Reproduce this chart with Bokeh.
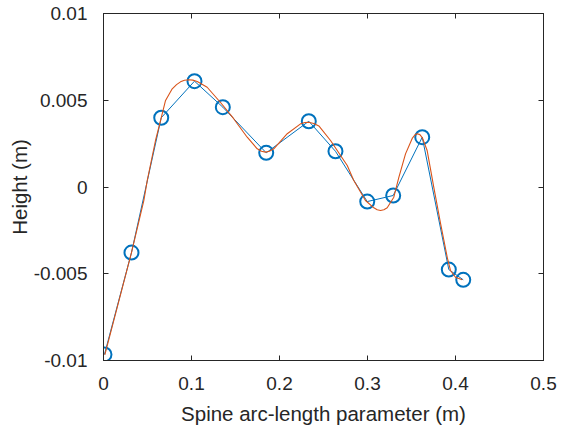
from bokeh.plotting import figure
from bokeh.models import LinearAxis, FixedTicker, Range1d
from bokeh.embed import file_html
from bokeh.resources import INLINE

# Measured spine points (blue circles)
s_pts = [0.0011, 0.0318, 0.0656, 0.1034, 0.1356, 0.1849, 0.2333,
         0.2636, 0.2997, 0.3292, 0.3622, 0.3924, 0.4088]
h_pts = [-0.00965, -0.00378, 0.00399, 0.00610, 0.00460, 0.00197, 0.00379,
         0.00206, -0.00084, -0.00049, 0.00287, -0.00476, -0.00535]

# Smooth fitted curve (orange)
s_fit = [0.0015, 0.0318, 0.0458, 0.0497, 0.0591, 0.0648, 0.0705, 0.0781,
         0.0830, 0.0875, 0.0920, 0.0969, 0.1015, 0.1065, 0.1178, 0.1330,
         0.1477, 0.1633, 0.1747, 0.1795, 0.1840, 0.1885, 0.1935, 0.2088,
         0.2239, 0.2290, 0.2333, 0.2390, 0.2447, 0.2580, 0.2656, 0.2770,
         0.2844, 0.2977, 0.3072, 0.3110, 0.3148, 0.3186, 0.3224, 0.3299,
         0.3356, 0.3432, 0.3508, 0.3540, 0.3565, 0.3595, 0.3622, 0.3678,
         0.3753, 0.3830, 0.3906, 0.3943, 0.4000, 0.4076]
h_fit = [-0.00968, -0.00378, -0.00078, 0.00037, 0.00268, 0.00383, 0.00499,
         0.00566, 0.00590, 0.00606, 0.00615, 0.00618, 0.00616, 0.00608,
         0.00575, 0.00487, 0.00395, 0.00287, 0.00220, 0.00206, 0.00201,
         0.00206, 0.00220, 0.00307, 0.00364, 0.00372, 0.00373, 0.00366,
         0.00352, 0.00268, 0.00210, 0.00124, 0.00037, -0.00078, -0.00120,
         -0.00131, -0.00135, -0.00131, -0.00120, -0.00059, 0.00056, 0.00191,
         0.00280, 0.00301, 0.00307, 0.00302, 0.00285, 0.00210, -0.00001,
         -0.00210, -0.00405, -0.00481, -0.00520, -0.00535]

x_ticks = [0, 0.1, 0.2, 0.3, 0.4, 0.5]
x_labels = ["0", "0.1", "0.2", "0.3", "0.4", "0.5"]
y_ticks = [-0.01, -0.005, 0, 0.005, 0.01]
y_labels = ["-0.01", "-0.005", "0", "0.005", "0.01"]

AX = "#262626"
FONT = "Liberation Sans"

p = figure(frame_width=440, frame_height=347,
           min_border_left=103, min_border_right=14,
           min_border_top=13, min_border_bottom=72,
           x_range=Range1d(0, 0.5), y_range=Range1d(-0.01, 0.01),
           output_backend="svg", toolbar_location=None)
p.grid.visible = False
p.outline_line_color = AX
p.outline_line_width = 1
p.background_fill_color = "white"
p.border_fill_color = "white"

def style(ax, ticks, labels, show_labels=True):
    ax.ticker = FixedTicker(ticks=ticks)
    ax.major_label_overrides = {t: l for t, l in zip(ticks, labels)}
    ax.major_tick_in = 5
    ax.major_tick_out = 0
    ax.minor_tick_in = 0
    ax.minor_tick_out = 0
    ax.axis_line_color = AX
    ax.major_tick_line_color = AX
    ax.major_label_text_color = AX
    ax.major_label_text_font = FONT
    ax.major_label_text_font_size = "19px" if show_labels else "0px"
    ax.axis_label_text_font = FONT
    ax.axis_label_text_font_style = "normal"
    ax.axis_label_text_color = AX
    ax.axis_label_text_font_size = "20.5px"

xa = p.xaxis[0]
style(xa, x_ticks, x_labels)
xa.major_label_standoff = 16
xa.axis_label = "Spine arc-length parameter (m)"
xa.axis_label_standoff = 9

ya = p.yaxis[0]
style(ya, y_ticks, y_labels)
ya.major_label_standoff = 16
ya.axis_label = "Height (m)"
ya.axis_label_standoff = 0

top = LinearAxis()
style(top, x_ticks, [""] * len(x_ticks), show_labels=False)
top.major_label_standoff = 0
p.add_layout(top, "above")

right = LinearAxis()
style(right, y_ticks, [""] * len(y_ticks), show_labels=False)
right.major_label_standoff = 0
p.add_layout(right, "right")

blue = "#0072BD"
orange = "#D95319"
p.line(s_pts, h_pts, line_color=blue, line_width=1)
p.scatter(s_pts, h_pts, marker="circle", size=14, fill_color=None,
          line_color=blue, line_width=2)
p.line(s_fit, h_fit, line_color=orange, line_width=1.1, line_join="round")

open("out.html", "w").write(file_html(p, INLINE))
